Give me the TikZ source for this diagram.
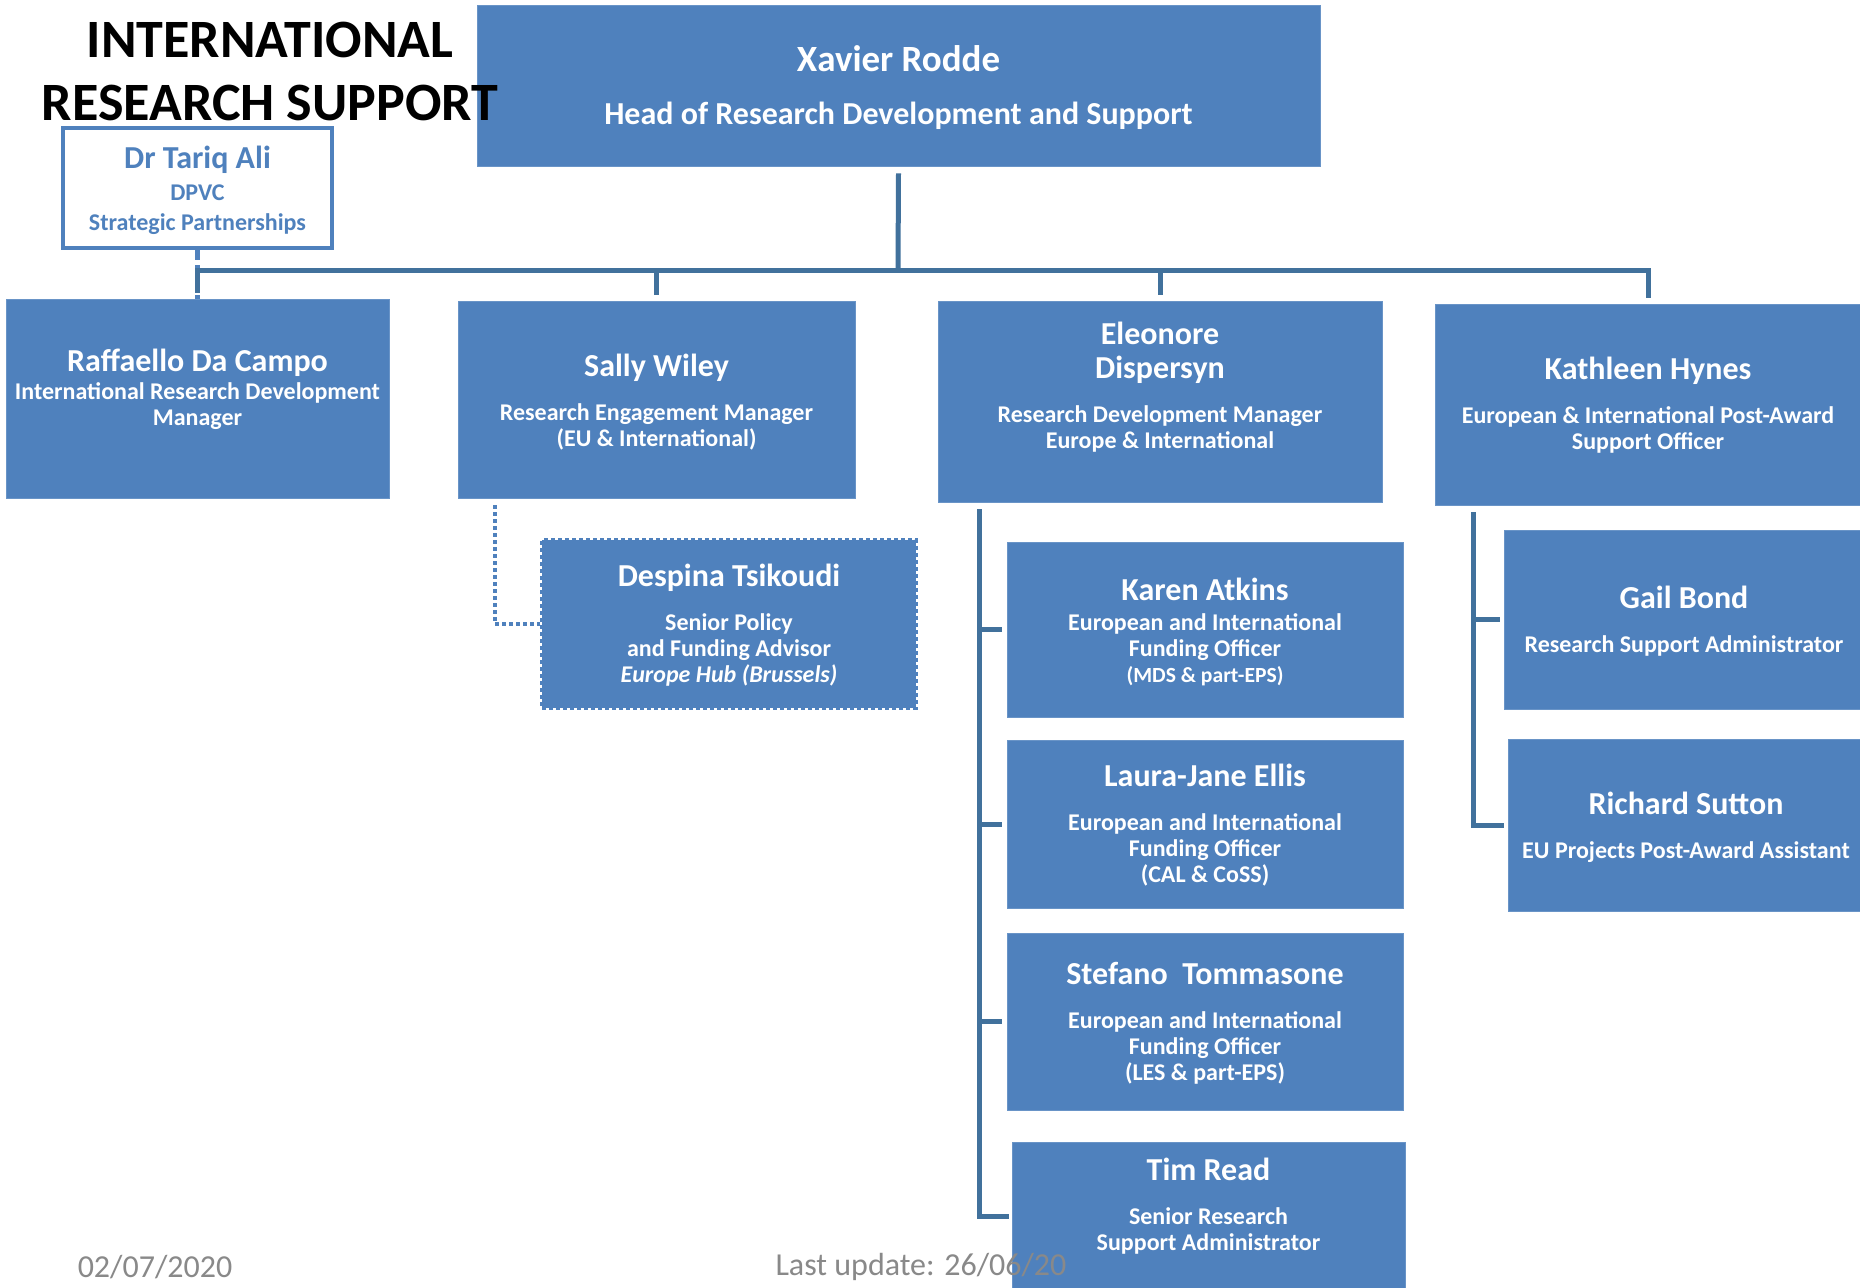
\documentclass[tikz,border=0pt]{standalone}
\usepackage{fontspec}
\setmainfont{Carlito}
\usepackage{tikz}
\usetikzlibrary{fit,calc,positioning}
\definecolor{boxblue}{HTML}{4F81BD}
\definecolor{lineblue}{HTML}{41719C}
\definecolor{footgrey}{HTML}{898989}
\newcommand{\staffname}[1]{{\fontsize{16}{19}\selectfont #1}}

\begin{document}
\begin{tikzpicture}[x=0.5pt, y=-0.5pt,
		staff/.style={draw=boxblue!85!white, fill=boxblue, rectangle, inner sep=0pt},
		stafftext/.style={text=white, align=center, inner sep=0pt, font=\bfseries\fontsize{12}{13}\selectfont},
		conn/.style={draw=lineblue, line width=2.5pt},
		dotline/.style={draw=boxblue, line width=2pt, dash pattern=on 2pt off 1.5pt},
		footer/.style={text=footgrey, font=\fontsize{16}{19}\selectfont}]
		\useasboundingbox (0,0) rectangle (1860,1287);
		\clip (0,0) rectangle (1860,1287);
		\fill[white] (0,0) rectangle (1860,1287);
		
		\node[staff, fit={(477,5) (1320,166)}] (xav) {};
		\node[stafftext] (xav-t) at ($(xav)+(0,2)$) {{\fontsize{18.5}{22}\selectfont Xavier Rodde}\\[13.5pt]{\fontsize{16}{19}\selectfont Head of Research Development and Support}};
		
		\node[align=center, font=\bfseries\fontsize{27}{31.5}\selectfont] (title) at (270,71) {INTERNATIONAL\\RESEARCH SUPPORT};
		
		\node[draw=boxblue, line width=2pt, fill=white, rectangle, inner sep=0pt, fit={(63,128) (332,248)}] (tariq) {};
		\node[stafftext, text=boxblue, font=\bfseries\fontsize{12}{15}\selectfont] (tariq-t) at ($(tariq)+(0,2)$) {\staffname{Dr Tariq Ali}\\[1pt]DPVC\\Strategic Partnerships};
		
		% second row
		\node[staff, fit={(6,299) (389,498)}] (raf) {};
		\node[stafftext] (raf-t) at ($(raf)+(0,-9)$) {\staffname{Raffaello Da Campo}\\[1pt]International Research Development\\Manager};
		\node[staff, fit={(458,301) (855,498)}] (sal) {};
		\node[stafftext] (sal-t) at ($(sal)+(0,3)$) {\staffname{Sally Wiley}\\[9pt]Research Engagement Manager\\(EU \& International)};
		\node[staff, fit={(938,301) (1382,502)}] (ele) {};
		\node[stafftext] (ele-t) at ($(ele)+(0,-14)$) {\staffname{Eleonore}\\[4pt]\staffname{Dispersyn}\\[9pt]Research Development Manager\\Europe \& International};
		\node[staff, fit={(1435,304) (1861,505)}] (kat) {};
		\node[stafftext] (kat-t) at ($(kat)+(0,1)$) {\staffname{Kathleen Hynes}\\[9pt]European \& International Post-Award\\Support Officer};
		
		\node[staff, dotline, fit={(542,540) (916,708)}] (des) {};
		\node[stafftext] (des-t) at ($(des)+(0,1)$) {\staffname{Despina Tsikoudi}\\[9pt]Senior Policy\\and Funding Advisor\\\textit{Europe Hub (Brussels)}};
		
		% funding officers
		\node[staff, fit={(1007,542) (1403,717)}] (kar) {};
		\node[stafftext] (kar-t) at ($(kar)+(0,2)$) {\staffname{Karen Atkins}\\[2pt]European and International\\Funding Officer\\{\fontsize{10.8}{12}\selectfont (MDS \& part-EPS)}};
		\node[staff, fit={(1007,740) (1403,908)}] (lau) {};
		\node[stafftext] (lau-t) at ($(lau)+(0,1)$) {\staffname{Laura-Jane Ellis}\\[9pt]European and International\\Funding Officer\\(CAL \& CoSS)};
		\node[staff, fit={(1007,933) (1403,1110)}] (ste) {};
		\node[stafftext] (ste-t) at ($(ste)+(0,2)$) {\staffname{Stefano\ \ Tommasone}\\[9pt]European and International\\Funding Officer\\(LES \& part-EPS)};
		\node[staff, fit={(1012,1142) (1405,1290)}] (tim) {};
		\node[stafftext] (tim-t) at ($(tim)+(0,-10)$) {\staffname{Tim Read}\\[9pt]Senior Research\\Support Administrator};
		
		\node[staff, fit={(1504,530) (1864,709)}] (gai) {};
		\node[stafftext] (gai-t) at ($(gai)+(0,2)$) {\staffname{Gail Bond}\\[9pt]Research Support Administrator};
		\node[staff, fit={(1508,739) (1864,911)}] (ric) {};
		\node[stafftext] (ric-t) at ($(ric)+(0,2)$) {\staffname{Richard Sutton}\\[9pt]EU Projects Post-Award Assistant};
		
		% lines
		\coordinate (bus) at (898,270);
		\draw[draw=boxblue, line width=2.5pt, dash pattern=on 5pt off 2.5pt] (tariq.south) -- (raf.north);
		\draw[conn] ($(xav.south)+(0,7)$) -- (bus);
		\foreach \b in {raf,sal,ele,kat}
		\draw[conn] (bus) -| ($(\b.north)+(0,-6)$);
		
		\draw[dotline] ($(sal.south west)+(37,7)$) |- (des.west);
		
		\coordinate (espine) at ($(ele.south west)+(42,7)$);
		\draw[conn] (espine) |- ($(tim.west)+(-3,0)$);
		\foreach \b in {kar,lau,ste}
		\draw[conn] (espine |- \b.west) -- ($(\b.west)+(-5,0)$);
		
		\coordinate (kspine) at ($(kat.south west)+(39,7)$);
		\draw[conn] (kspine) |- ($(ric.west)+(-4,0)$);
		\draw[conn] (kspine |- gai.west) -- ($(gai.west)+(-4,0)$);
		
		\node[footer] (date) at (155,1267) {02/07/2020};
		\node[footer] (upd) at (921,1267) {Last update: 26/06/20};
\end{tikzpicture}
\end{document}
